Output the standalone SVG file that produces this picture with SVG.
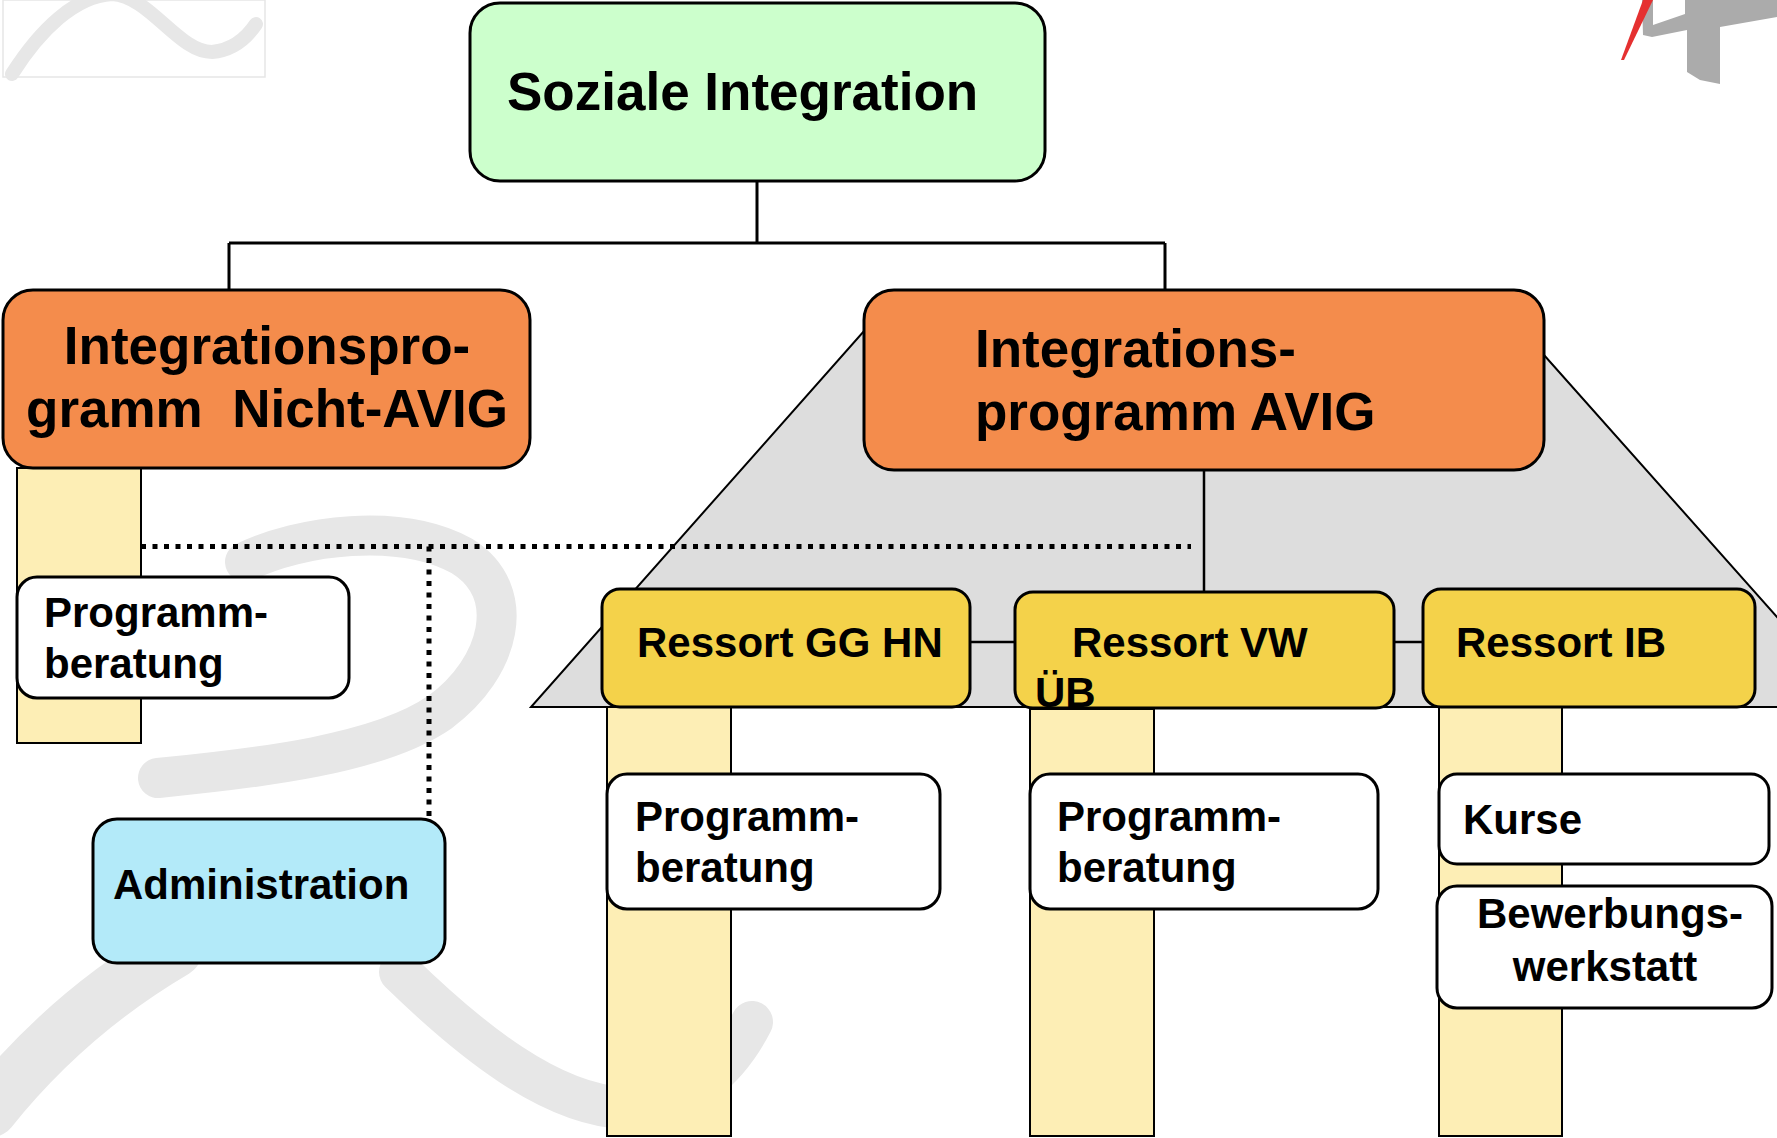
<svg xmlns="http://www.w3.org/2000/svg" width="1777" height="1138" viewBox="0 0 1777 1138">
<defs>
<style>
text{font-family:"Liberation Sans",Arial,sans-serif;font-weight:bold;fill:#000;white-space:pre}
.t53{font-size:53px}
.t42{font-size:42px}
.box{stroke:#000;stroke-width:3}
.green{fill:#CCFFCC}
.orange{fill:#F48C4C}
.yellow{fill:#F4D24A}
.white{fill:#FFFFFF}
.blue{fill:#B3EAF9}
.pillar{fill:#FDEEB5;stroke:#000;stroke-width:2}
.line{fill:none;stroke:#000;stroke-width:3}
.thin{fill:none;stroke:#000;stroke-width:2.5}
.dot{fill:none;stroke:#000;stroke-width:5;stroke-dasharray:5 6.5}
.wm{fill:none;stroke:#E7E7E7;stroke-linecap:round;stroke-linejoin:round}
</style>
</defs>
<rect width="1777" height="1138" fill="#FFFFFF"/>
<g id="decoration">
<rect x="3" y="0" width="262" height="77" fill="#FFFFFF" stroke="#E6E6E6" stroke-width="1.5"/>
<path class="wm" stroke-width="14" d="M12,74 C40,30 75,-4 112,-6 C150,-4 178,52 212,52 C234,50 248,36 256,24"/>
<path d="M1642,0 L1653,0 L1653,25 L1685,14 L1685,0 L1777,0 L1777,17 L1720,27 L1720,84 L1700,80 L1687,72 L1687,30 L1652,37 L1643,35 Z" fill="#ABABAB"/>
<path d="M1621,60 L1624,60 L1653,0 L1643,0 Z" fill="#E53030"/>
<path class="wm" stroke-width="40" d="M245,562 C300,535 400,522 462,556 C520,592 500,668 440,712 C380,754 260,768 158,778"/>
<path class="wm" stroke-width="55" d="M-10,1110 C30,1060 90,1000 175,950"/>
<path class="wm" stroke-width="42" d="M400,972 C470,1040 550,1105 625,1108 C690,1108 730,1065 752,1022"/>
</g>
<g id="roof">
<polygon points="864,331 1544,355 1857,707 531,707" fill="#DDDDDD" stroke="#000" stroke-width="2"/>
</g>
<g id="pillars">
<rect class="pillar" x="17" y="468" width="124" height="275"/>
<rect class="pillar" x="607" y="707" width="124" height="429"/>
<rect class="pillar" x="1030" y="709" width="124" height="427"/>
<rect class="pillar" x="1439" y="707" width="123" height="429"/>
</g>
<g id="connectors">
<path class="line" d="M757,181 V243 M229,243 H1165 M229,243 V290 M1165,243 V290"/>
<path class="thin" d="M1204,470 V592 M970,642 H1015 M1393,642 H1423"/>
<path class="dot" d="M141,546.5 H1191 M429,546.5 V818"/>
</g>
<g id="soziale-integration">
<rect class="box green" x="470" y="3" width="575" height="178" rx="30"/>
<text class="t53" x="507" y="110">Soziale Integration</text>
</g>
<g id="nicht-avig">
<rect class="box orange" x="3" y="290" width="527" height="178" rx="30"/>
<text class="t53" x="267" y="364" text-anchor="middle">Integrationspro-</text>
<text class="t53" x="267" y="427" text-anchor="middle">gramm  Nicht-AVIG</text>
</g>
<g id="avig">
<rect class="box orange" x="864" y="290" width="680" height="180" rx="30"/>
<text class="t53" x="975" y="367">Integrations-</text>
<text class="t53" x="975" y="430">programm AVIG</text>
</g>
<g id="ressort-gg-hn">
<rect class="box yellow" x="602" y="589" width="368" height="118" rx="18"/>
<text class="t42" x="637" y="657">Ressort GG HN</text>
</g>
<g id="ressort-vw-ub">
<rect class="box yellow" x="1015" y="592" width="379" height="116" rx="18"/>
<text class="t42" x="1072" y="657">Ressort VW</text>
<text class="t42" x="1035" y="707">ÜB</text>
</g>
<g id="ressort-ib">
<rect class="box yellow" x="1423" y="589" width="332" height="118" rx="18"/>
<text class="t42" x="1456" y="657">Ressort IB</text>
</g>
<g id="programmberatung-nicht-avig">
<rect class="box white" x="17" y="577" width="332" height="121" rx="20"/>
<text class="t42" x="44" y="627">Programm-</text>
<text class="t42" x="44" y="678">beratung</text>
</g>
<g id="administration">
<rect class="box blue" x="93" y="819" width="352" height="144" rx="24"/>
<text class="t42" x="113" y="899">Administration</text>
</g>
<g id="programmberatung-gg">
<rect class="box white" x="607" y="774" width="333" height="135" rx="20"/>
<text class="t42" x="635" y="831">Programm-</text>
<text class="t42" x="635" y="882">beratung</text>
</g>
<g id="programmberatung-vw">
<rect class="box white" x="1030" y="774" width="348" height="135" rx="20"/>
<text class="t42" x="1057" y="831">Programm-</text>
<text class="t42" x="1057" y="882">beratung</text>
</g>
<g id="kurse">
<rect class="box white" x="1439" y="774" width="330" height="90" rx="18"/>
<text class="t42" x="1463" y="834">Kurse</text>
</g>
<g id="bewerbungswerkstatt">
<rect class="box white" x="1437" y="886" width="335" height="122" rx="20"/>
<text class="t42" x="1610" y="928" text-anchor="middle">Bewerbungs-</text>
<text class="t42" x="1605" y="981" text-anchor="middle">werkstatt</text>
</g>
</svg>
